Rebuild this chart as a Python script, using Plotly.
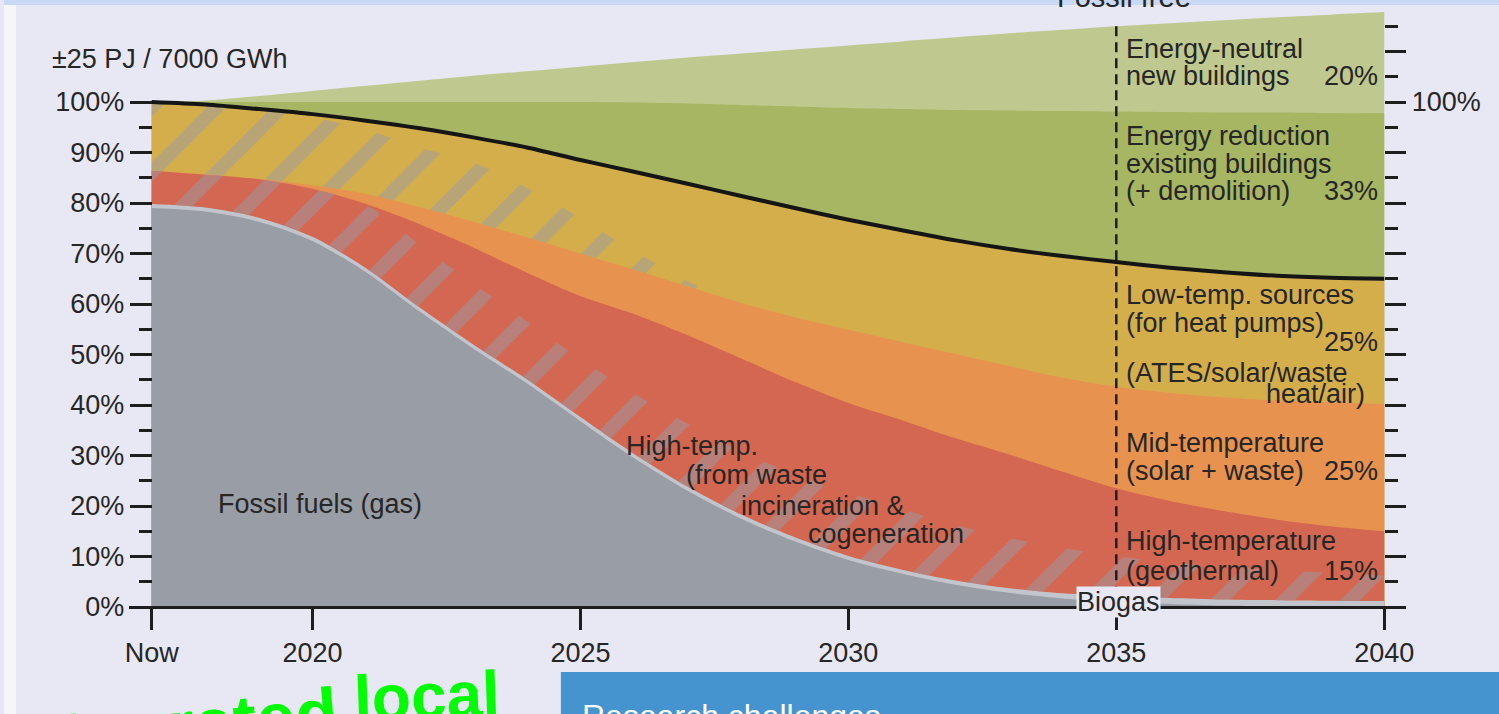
import plotly.graph_objects as go

W, H = 1499, 714          # reference picture size (pixel geometry below refers to it)
FIG_W = 1508              # page width so that the captured picture fills 1499 px
FONT = "Liberation Sans, Arial, sans-serif"
TEXT = "#262626"
BG = "#e7e8f4"

# ---------------- data (percent of current demand) -------------
years = list(range(2017, 2041))
gas_top = [79.0, 78.3, 76.3, 72.5, 66.3, 58.5, 51.2, 44.3, 36.8, 29.5, 23.0, 17.5,
           13.0, 9.3, 6.6, 4.4, 2.8, 1.7, 1.0, 0.6, 0.3, 0.15, 0.05, 0.0]
biogas_band = [0.8, 0.8, 0.8, 0.8, 0.8, 0.8, 0.8, 0.8, 0.8, 0.8, 0.8, 0.8,
               0.8, 0.8, 0.8, 0.85, 0.9, 1.0, 1.1, 1.2, 1.2, 1.2, 1.2, 1.2]
high_temp_top = [86.4, 85.6, 84.7, 82.8, 79.8, 75.8, 71.2, 66.2, 61.6, 58.0, 53.8, 49.2,
                 44.6, 40.4, 37.0, 33.4, 30.2, 26.8, 23.5, 21.0, 19.0, 17.3, 16.0, 15.0]
mid_temp_top = [86.4, 85.7, 84.8, 83.5, 81.8, 79.2, 76.3, 73.2, 70.0, 66.8, 63.5, 60.2,
                57.4, 54.9, 52.5, 50.1, 47.7, 45.4, 43.6, 42.4, 41.5, 40.9, 40.5, 40.2]
demand_top = [100.0, 99.5, 98.6, 97.6, 96.3, 94.8, 93.0, 91.0, 88.5, 86.2, 83.8, 81.4,
              79.0, 76.7, 74.6, 72.6, 70.9, 69.5, 68.3, 67.2, 66.3, 65.6, 65.2, 65.0]
reduction_top = [100.0, 100.0, 100.0, 100.0, 100.0, 100.0, 100.0, 100.0, 100.0, 99.9, 99.7, 99.4,
                 99.1, 98.8, 98.6, 98.4, 98.3, 98.2, 98.1, 98.0, 97.9, 97.9, 97.8, 97.8]
newbuild_top = [100.0, 100.3, 101.2, 102.2, 103.2, 104.2, 105.2, 106.1, 107.0, 107.9, 108.8, 109.6,
                110.4, 111.2, 112.0, 112.8, 113.6, 114.3, 115.0, 115.6, 116.2, 116.8, 117.3, 117.8]

# transition (hatched) zones
low_hatch_years = years[:12]
low_hatch_top = [100.0, 99.4, 98.5, 97.0, 94.5, 91.0, 88.0, 83.0, 77.0, 70.5, 64.5, 60.2]
high_hatch_depth = [12, 12, 12, 12, 12.5, 12.5, 12, 11.5, 11.5, 12, 12.5, 12.5,
                    12.5, 12.5, 12, 11, 10, 9, 8, 7, 6.5, 6, 5.5, 5]

fossil_free_year = 2035
fossil_line_span = [-4.2, 116.0]
x_tick_vals = [2017, 2020, 2025, 2030, 2035, 2040]
x_tick_text = ["Now", "2020", "2025", "2030", "2035", "2040"]
left_major = list(range(0, 101, 10))
left_minor = list(range(5, 100, 10))
right_major = list(range(0, 111, 10))
right_minor = list(range(5, 116, 10))

# ---------------- derived ----------------
biogas_top = [g + b for g, b in zip(gas_top, biogas_band)]
high_hatch_top = [min(r, bt + d) for r, bt, d in zip(high_temp_top, biogas_top, high_hatch_depth)]
low_hatch_base = mid_temp_top[:12]

# ---------------- colours ----------------
C_NEW = "#bfc98f"
C_RED = "#a7b662"
C_LOW = "#d5ae4c"
C_MID = "#e8924f"
C_HIGH = "#d46751"
C_BIO = "#c3c5cc"
C_GAS = "#999da6"
HATCH = "#979ba8"

# pixel geometry of the original chart
PX_PER_YEAR = (1383 - 148) / 23.0
PX_PER_PCT = (607 - 102) / 100.0
x_range = [2017 - (148 - 125) / PX_PER_YEAR, 2040 + (1405 - 1383) / PX_PER_YEAR]
y_range = [-(H - 607) / PX_PER_PCT, 607 / PX_PER_PCT]

fig = go.Figure()

def band(top, color, name):
    fig.add_trace(go.Scatter(x=years, y=top, mode="lines", name=name,
                             line=dict(width=0, shape="spline", smoothing=0.8),
                             fill="tozeroy", fillcolor=color, hoverinfo="skip",
                             showlegend=False))

band(newbuild_top, C_NEW, "Energy-neutral new buildings")
band(reduction_top, C_RED, "Energy reduction existing buildings")
band(demand_top, C_LOW, "Low-temp. sources")
band(mid_temp_top, C_MID, "Mid-temperature")
band(high_temp_top, C_HIGH, "High-temperature")
band(biogas_top, C_BIO, "Biogas")
band(gas_top, C_GAS, "Fossil fuels (gas)")

pattern = dict(shape="/", fgcolor=HATCH, bgcolor="rgba(0,0,0,0)", fgopacity=0.47,
               size=46, solidity=0.3)

# hatched transition in low-temp band
fig.add_trace(go.Scatter(x=low_hatch_years, y=low_hatch_base, mode="lines",
                         line=dict(width=0, shape="spline", smoothing=0.8),
                         hoverinfo="skip", showlegend=False))
fig.add_trace(go.Scatter(x=low_hatch_years, y=low_hatch_top, mode="lines",
                         line=dict(width=0, shape="spline", smoothing=0.8),
                         fill="tonexty", fillcolor="rgba(0,0,0,0)", fillpattern=pattern,
                         hoverinfo="skip", showlegend=False))
# hatched transition in high-temp band
fig.add_trace(go.Scatter(x=years, y=biogas_top, mode="lines",
                         line=dict(width=0, shape="spline", smoothing=0.8),
                         hoverinfo="skip", showlegend=False))
fig.add_trace(go.Scatter(x=years, y=high_hatch_top, mode="lines",
                         line=dict(width=0, shape="spline", smoothing=0.8),
                         fill="tonexty", fillcolor="rgba(0,0,0,0)", fillpattern=pattern,
                         hoverinfo="skip", showlegend=False))

# demand line
fig.add_trace(go.Scatter(x=years, y=demand_top, mode="lines",
                         line=dict(width=4, color="#151515", shape="spline", smoothing=0.8),
                         hoverinfo="skip", showlegend=False))

# fossil-free marker line (on right axis so that axis is drawn)
fig.add_trace(go.Scatter(x=[fossil_free_year, fossil_free_year], y=fossil_line_span,
                         mode="lines", yaxis="y2",
                         line=dict(width=2.5, color="#1e1e1e", dash="10px,6px"),
                         hoverinfo="skip", showlegend=False))

def px_x(px):
    return px / W

def px_y(py):
    return 1 - py / H

def label(text, x, base, anchor="left", size=27, color=TEXT, **kw):
    return dict(text=text, xref="paper", yref="paper", x=px_x(x), y=px_y(base - 0.35 * size),
                xanchor=anchor, yanchor="middle", showarrow=False,
                font=dict(family=FONT, size=size, color=color), **kw)

ann = [
    label("±25 PJ / 7000 GWh", 46, 68),
    label("Fossil fuels (gas)", 212, 513),
    label("High-temp.", 621, 455),
    label("(from waste", 681, 484),
    label("incineration &", 736, 515),
    label("cogeneration", 804, 543),
    label("Energy-neutral", 1122, 58),
    label("new buildings", 1122, 85),
    label("20%", 1379, 85, "right"),
    label("Energy reduction", 1122, 145),
    label("existing buildings", 1122, 173),
    label("(+ demolition)", 1122, 200),
    label("33%", 1379, 200, "right"),
    label("Low-temp. sources", 1122, 304),
    label("(for heat pumps)", 1122, 332),
    label("25%", 1379, 351, "right"),
    label("(ATES/solar/waste", 1122, 382),
    label("heat/air)", 1366, 403, "right"),
    label("Mid-temperature", 1122, 452),
    label("(solar + waste)", 1122, 480),
    label("25%", 1379, 480, "right"),
    label("High-temperature", 1122, 550),
    label("(geothermal)", 1122, 580),
    label("15%", 1379, 580, "right"),
    label("Biogas", 1117, 611, "center", bgcolor=BG, borderpad=0),
    label("Fossil free", 1122, 7, "center", size=29),
    label("Research challenges", 577, 727, size=32, color="white"),
    dict(text="<b>Integrated</b>", xref="paper", yref="paper", x=px_x(165), y=px_y(727),
         xanchor="center", yanchor="middle", showarrow=False, textangle=-5,
         font=dict(family=FONT, size=70, color="#00ff00")),
    dict(text="<b>local</b>", xref="paper", yref="paper", x=px_x(424), y=px_y(696),
         xanchor="center", yanchor="middle", showarrow=False, textangle=-2,
         font=dict(family=FONT, size=64, color="#00ff00")),
]

shapes = [
    dict(type="rect", xref="paper", yref="paper", x0=0, x1=px_x(12), y0=0, y1=1,
         fillcolor="#f5f5fa", line=dict(width=0), layer="below"),
    dict(type="rect", xref="paper", yref="paper", x0=0, x1=1, y0=px_y(5), y1=1,
         fillcolor="#c9d9f5", line=dict(width=0), layer="below"),
    dict(type="rect", xref="paper", yref="paper", x0=px_x(558), x1=1, y0=0, y1=px_y(672),
         fillcolor="#4593cf", line=dict(width=0), layer="below"),
]

axis_col = "#1e1e1e"
fig.update_layout(
    width=FIG_W, height=H, autosize=False, margin=dict(l=0, r=0, t=0, b=0),
    paper_bgcolor=BG, plot_bgcolor="rgba(0,0,0,0)",
    showlegend=False,
    font=dict(family=FONT, size=27, color=TEXT),
    xaxis=dict(domain=[px_x(125), px_x(1405)], range=x_range, anchor="free",
               position=(H - 607) / H, showline=True, linewidth=2.5, linecolor=axis_col,
               ticks="outside", ticklen=21, tickwidth=2.5, tickcolor=axis_col,
               tickmode="array", tickvals=x_tick_vals, ticktext=x_tick_text,
               tickfont=dict(size=27, color=TEXT), showgrid=False, zeroline=False),
    yaxis=dict(domain=[0, 1], range=y_range, anchor="free", position=px_x(148),
               showline=False, ticks="outside", ticklen=22, tickwidth=2.5, tickcolor=axis_col,
               tickmode="array", tickvals=left_major,
               ticktext=[f"{v}%" for v in left_major],
               tickfont=dict(size=27, color=TEXT), showgrid=False, zeroline=False,
               minor=dict(tickmode="array", tickvals=left_minor, ticks="outside",
                          ticklen=13, tickwidth=2.5, tickcolor=axis_col, showgrid=False)),
    yaxis2=dict(range=y_range, overlaying="y", side="right", anchor="free",
                position=px_x(1383), showline=False, ticks="outside", ticklen=21,
                tickwidth=2.5, tickcolor=axis_col, tickmode="array", tickvals=right_major,
                ticktext=["100%" if v == 100 else "" for v in right_major],
                tickfont=dict(size=27, color=TEXT), showgrid=False, zeroline=False,
                minor=dict(tickmode="array", tickvals=right_minor, ticks="outside",
                           ticklen=13, tickwidth=2.5, tickcolor=axis_col, showgrid=False)),
    annotations=ann, shapes=shapes,
)

post = (
    "document.documentElement.style.background='" + BG + "';"
    "document.body.style.margin='0px';"
    "document.body.style.overflow='hidden';"
    "document.body.style.background='" + BG + "';"
)

fig.write_html("out.html", config={"displayModeBar": False}, post_script=post)
